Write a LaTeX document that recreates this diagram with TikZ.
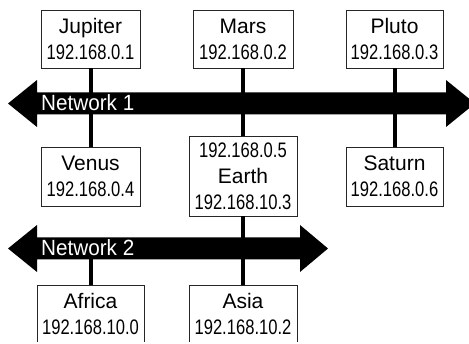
\documentclass[tikz,border=0pt]{standalone}
\usepackage{fontspec}
\setmainfont{Liberation Sans}
\newfontfamily\ipfont{Liberation Sans}[FakeStretch=0.79]
\newfontfamily\netfont{Liberation Sans}[FakeStretch=0.94]
\usepackage{tikz}
\newcommand{\hostfont}{\fontsize{21}{26}\selectfont}
\newcommand{\ip}[1]{{\ipfont #1}}

\begin{document}
\begin{tikzpicture}[x=1pt,y=-1pt,
  host/.style={draw=black!85,line width=0.8pt,inner sep=0pt,align=center,font=\hostfont},
  link/.style={line width=4pt},
  netname/.style={text=white,font=\netfont\fontsize{22}{26}\selectfont,anchor=base west,inner sep=0pt}]
\useasboundingbox (0,0) rectangle (469,344);
\clip (0,0) rectangle (469,342);
% hosts on network 1
\node[host,minimum width=99pt,minimum height=58pt] (jupiter) at (90.5,39) {Jupiter\\\ip{192.168.0.1}};
\node[host,minimum width=100pt,minimum height=58pt] (mars) at (243,39) {Mars\\\ip{192.168.0.2}};
\node[host,minimum width=97pt,minimum height=58pt] (pluto) at (394.5,39) {Pluto\\\ip{192.168.0.3}};
\node[host,minimum width=99pt,minimum height=59pt] (venus) at (90.5,176.5) {Venus\\\ip{192.168.0.4}};
\node[host,minimum width=108pt,minimum height=80pt] (earth) at (243,176) {\ip{192.168.0.5}\\Earth\\\ip{192.168.10.3}};
\node[host,minimum width=97pt,minimum height=59pt] (saturn) at (394.5,176.5) {Saturn\\\ip{192.168.0.6}};
% hosts on network 2
\node[host,minimum width=107pt,minimum height=58pt] (africa) at (90.5,314) {Africa\\\ip{192.168.10.0}};
\node[host,minimum width=108pt,minimum height=58pt] (asia) at (243,314) {Asia\\\ip{192.168.10.2}};
\coordinate (net1) at (240,103.5);
\coordinate (net2) at (170,248.5);
% links
\draw[link](jupiter)--(venus);
\draw[link](mars)--(earth);
\draw[link](pluto)--(saturn);
\draw[link](earth)--(asia);
\draw[link](africa.north)--(africa.north|-net2);
% network bars
\fill(8,103.5)--(37,80)--(37,92.5)--(446,92.5)--(446,80)--(475,103.5)
--(446,127)--(446,114.5)--(37,114.5)--(37,127)--cycle;
\fill(8,248.5)--(37,225)--(37,237.5)--(300,237.5)--(300,225)--(328,248.5)
--(300,272)--(300,259.5)--(37,259.5)--(37,272)--cycle;
\node[netname] (n1) at (41,111) {Network 1};
\node[netname] (n2) at (41,256) {Network 2};
\end{tikzpicture}
\end{document}
